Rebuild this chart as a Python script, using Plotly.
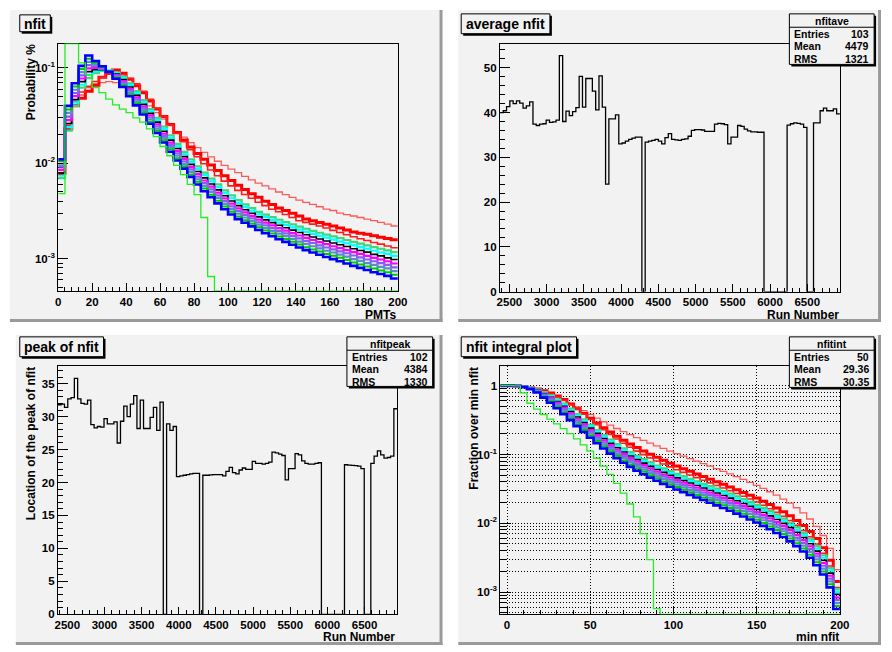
import numpy as np
import plotly.graph_objects as go

W, H = 892, 652

# ---------------------------------------------------------------- data
# nfit distributions, 50 bins of 4 PMTs from 0 to 200 (probability per bin)
nfit_edges = np.arange(0, 204, 4)

nfit_green = [0.0048, 0.2400, 0.2600, 0.1130, 0.0850, 0.0620, 0.0550, 0.0470, 0.0410, 0.0370,
              0.0340, 0.0300, 0.0270, 0.0230, 0.0190, 0.0150, 0.0120, 0.0095, 0.0076, 0.0060,
              0.0047, 0.0027, 0.00065, 0, 0, 0, 0, 0, 0, 0,
              0, 0, 0, 0, 0, 0, 0, 0, 0, 0,
              0, 0, 0, 0, 0, 0, 0, 0, 0, 0]

nfit_red_light = [0.0075, 0.0230, 0.0400, 0.0520, 0.0620, 0.0680, 0.0700, 0.0720, 0.0700, 0.0660,
                  0.0600, 0.0530, 0.0460, 0.0400, 0.0340, 0.0290, 0.0250, 0.0215, 0.0188, 0.0165,
                  0.0146, 0.0130, 0.0117, 0.0105, 0.0095, 0.0087, 0.0080, 0.0073, 0.0067, 0.0062,
                  0.0058, 0.0054, 0.0050, 0.0047, 0.0044, 0.0041, 0.0039, 0.0037, 0.0035, 0.0033,
                  0.0032, 0.0030, 0.0029, 0.0028, 0.0027, 0.0026, 0.0025, 0.0024, 0.0023, 0.0022]

nfit_red_thick = [0.0078, 0.0230, 0.0400, 0.0480, 0.0570, 0.0660, 0.0800, 0.0900, 0.0950, 0.0880,
                  0.0760, 0.0650, 0.0550, 0.0450, 0.0370, 0.0310, 0.0255, 0.0210, 0.0175, 0.0148,
                  0.0127, 0.0110, 0.0096, 0.0084, 0.0074, 0.0066, 0.0059, 0.0053, 0.0048, 0.0044,
                  0.0040, 0.0037, 0.0034, 0.0032, 0.0030, 0.0028, 0.0026, 0.0025, 0.0024, 0.0023,
                  0.0022, 0.0021, 0.0020, 0.0019, 0.00185, 0.0018, 0.00174, 0.00168, 0.00163, 0.00158]

nfit_red_mid = [0.0085, 0.0250, 0.0450, 0.0560, 0.0640, 0.0720, 0.0800, 0.0860, 0.0880, 0.0850,
                0.0780, 0.0680, 0.0570, 0.0470, 0.0380, 0.0310, 0.0250, 0.0205, 0.0168, 0.0139,
                0.0117, 0.0099, 0.0085, 0.0074, 0.0065, 0.0058, 0.0052, 0.0047, 0.0043, 0.0039,
                0.0036, 0.0033, 0.0031, 0.0029, 0.0027, 0.0025, 0.0024, 0.0023, 0.0022, 0.0021,
                0.00198, 0.00188, 0.00178, 0.00170, 0.00162, 0.00155, 0.00148, 0.00142, 0.00136, 0.00130]

# main family of runs, from the hardest spectrum (highest tail) to the softest
nfit_band_1 = [0.0070, 0.0220, 0.0400, 0.0620, 0.0780, 0.0880, 0.0930, 0.0940, 0.0900, 0.0810,
               0.0690, 0.0570, 0.0460, 0.0370, 0.0300, 0.0242, 0.0196, 0.0160, 0.0132, 0.0110,
               0.0093, 0.0080, 0.0069, 0.0060, 0.0052, 0.0046, 0.0041, 0.0037, 0.0034, 0.0031,
               0.00290, 0.00272, 0.00256, 0.00242, 0.00229, 0.00217, 0.00206, 0.00196, 0.00187, 0.00179,
               0.00171, 0.00164, 0.00157, 0.00150, 0.00144, 0.00138, 0.00132, 0.00127, 0.00122, 0.00117]
nfit_band_2 = [0.0074, 0.0240, 0.0432, 0.0666, 0.0845, 0.0918, 0.0944, 0.0936, 0.0880, 0.0781,
               0.0660, 0.0543, 0.0438, 0.0352, 0.0285, 0.0229, 0.0185, 0.0151, 0.01246, 0.01036,
               0.00874, 0.00751, 0.00647, 0.00562, 0.00487, 0.00430, 0.00384, 0.00347, 0.00319, 0.00291,
               0.00272, 0.00255, 0.00239, 0.00226, 0.00213, 0.00202, 0.00191, 0.00182, 0.00173, 0.00166,
               0.00158, 0.00151, 0.00145, 0.00138, 0.00132, 0.00127, 0.00121, 0.00116, 0.00112, 0.00107]
nfit_band_3 = [0.0079, 0.0261, 0.0467, 0.0719, 0.0914, 0.0957, 0.0959, 0.0931, 0.0861, 0.0754,
               0.0631, 0.0517, 0.0416, 0.0334, 0.0270, 0.0217, 0.0175, 0.0143, 0.01176, 0.00975,
               0.00821, 0.00704, 0.00607, 0.00526, 0.00456, 0.00403, 0.00360, 0.00326, 0.00299, 0.00274,
               0.00255, 0.00239, 0.00224, 0.00211, 0.00199, 0.00188, 0.00178, 0.00169, 0.00161, 0.00153,
               0.00146, 0.00140, 0.00134, 0.00127, 0.00122, 0.00117, 0.00111, 0.00107, 0.00102, 0.00098]
nfit_band_4 = [0.0086, 0.0284, 0.0505, 0.0775, 0.0988, 0.0998, 0.0975, 0.0927, 0.0842, 0.0727,
               0.0604, 0.0492, 0.0396, 0.0318, 0.0256, 0.0205, 0.0165, 0.0135, 0.01110, 0.00918,
               0.00771, 0.00660, 0.00569, 0.00493, 0.00428, 0.00377, 0.00337, 0.00306, 0.00281, 0.00257,
               0.00239, 0.00223, 0.00209, 0.00197, 0.00185, 0.00175, 0.00165, 0.00157, 0.00149, 0.00142,
               0.00135, 0.00129, 0.00123, 0.00117, 0.00112, 0.00107, 0.00102, 0.00098, 0.00094, 0.00089]
nfit_band_5 = [0.0092, 0.0309, 0.0546, 0.0836, 0.1068, 0.1041, 0.0991, 0.0923, 0.0823, 0.0702,
               0.0577, 0.0469, 0.0377, 0.0302, 0.0243, 0.0194, 0.0156, 0.0127, 0.01047, 0.00864,
               0.00724, 0.00619, 0.00534, 0.00462, 0.00401, 0.00353, 0.00316, 0.00288, 0.00264, 0.00241,
               0.00224, 0.00209, 0.00196, 0.00184, 0.00173, 0.00163, 0.00154, 0.00146, 0.00138, 0.00131,
               0.00125, 0.00119, 0.00114, 0.00108, 0.00103, 0.00098, 0.00094, 0.00090, 0.00086, 0.00081]
nfit_band_6 = [0.0095, 0.0337, 0.0590, 0.0902, 0.1155, 0.1085, 0.1007, 0.0918, 0.0805, 0.0677,
               0.0552, 0.0447, 0.0359, 0.0288, 0.0231, 0.0184, 0.0148, 0.0120, 0.00988, 0.00813,
               0.00680, 0.00580, 0.00500, 0.00433, 0.00376, 0.00331, 0.00296, 0.00270, 0.00248, 0.00227,
               0.00210, 0.00196, 0.00183, 0.00172, 0.00161, 0.00151, 0.00143, 0.00135, 0.00128, 0.00121,
               0.00116, 0.00110, 0.00105, 0.00099, 0.00095, 0.00090, 0.00086, 0.00082, 0.00079, 0.00074]
nfit_band_7 = [0.0105, 0.0367, 0.0638, 0.0973, 0.1249, 0.1132, 0.1023, 0.0914, 0.0787, 0.0653,
               0.0528, 0.0425, 0.0342, 0.0273, 0.0219, 0.0174, 0.0140, 0.0113, 0.00932, 0.00765,
               0.00639, 0.00544, 0.00469, 0.00406, 0.00352, 0.00310, 0.00277, 0.00253, 0.00232, 0.00213,
               0.00197, 0.00184, 0.00171, 0.00161, 0.00150, 0.00141, 0.00132, 0.00125, 0.00119, 0.00112,
               0.00107, 0.00102, 0.00097, 0.00091, 0.00087, 0.00083, 0.00079, 0.00075, 0.00072, 0.00068]
nfit_band_8 = [0.0110, 0.0400, 0.0690, 0.1050, 0.1350, 0.1180, 0.1040, 0.0910, 0.0770, 0.0630,
               0.0505, 0.0405, 0.0325, 0.0260, 0.0208, 0.0165, 0.0132, 0.0107, 0.0088, 0.0072,
               0.0060, 0.0051, 0.0044, 0.0038, 0.0033, 0.0029, 0.0026, 0.00238, 0.00218, 0.00200,
               0.00185, 0.00172, 0.00160, 0.00150, 0.00140, 0.00131, 0.00123, 0.00116, 0.00110, 0.00104,
               0.00099, 0.00094, 0.00089, 0.00084, 0.00080, 0.00076, 0.00072, 0.00069, 0.00066, 0.00062]

# run-by-run summaries, 103 bins between run 2373 and run 6939
run_lo, run_hi = 2373.0, 6939.0
avg_nfit = [40.0, 40.4, 41.3, 42.6, 42.0, 42.6, 42.1, 41.0, 41.5, 42.4,
            37.4, 37.1, 37.4, 37.5, 38.3, 37.8, 37.9, 38.3, 52.7, 38.0,
            40.3, 39.3, 40.2, 41.1, 48.1, 41.2, 47.6, 47.6, 44.8, 40.6,
            48.2, 41.2, 24.0, 38.6, 38.6, 39.5, 33.0, 33.2, 33.6, 34.0,
            34.3, 34.5, 34.5, 0.0, 33.4, 33.6, 33.8, 34.0, 33.6, 33.0,
            34.4, 35.3, 34.0, 33.9, 33.8, 34.0, 34.1, 34.7, 36.0, 36.2,
            36.2, 36.1, 35.8, 35.8, 35.8, 37.4, 37.6, 37.5, 37.3, 33.0,
            34.5, 34.5, 37.1, 36.9, 36.3, 35.9, 35.7, 35.7, 35.6, 35.6,
            0.0, 0.0, 0.0, 0.0, 0.0, 0.0, 0.0, 37.2, 37.5, 37.7,
            37.6, 37.4, 36.7, 0.0, 0.0, 37.7, 37.7, 40.4, 41.0, 40.4,
            40.4, 40.8, 39.7]
peak_nfit = [31.8, 31.9, 31.4, 32.7, 32.9, 35.8, 32.7, 32.0, 31.9, 32.5,
             28.8, 28.3, 28.5, 28.4, 29.7, 28.9, 28.9, 29.2, 26.0, 29.3,
             31.6, 30.0, 31.9, 33.2, 28.2, 32.5, 28.2, 28.2, 29.9, 31.4,
             27.9, 32.2, 0.0, 28.9, 27.9, 28.5, 20.9, 21.0, 21.1, 21.2,
             21.3, 21.4, 21.4, 0.0, 21.1, 21.1, 21.15, 21.2, 21.2, 21.2,
             21.0, 21.7, 22.3, 21.5, 21.3, 21.9, 22.2, 22.0, 22.0, 23.2,
             22.9, 22.9, 22.8, 22.9, 23.1, 24.6, 24.5, 24.3, 24.1, 20.4,
             22.1, 22.1, 24.4, 24.2, 23.3, 22.9, 22.8, 22.8, 22.9, 23.0,
             0.0, 0.0, 0.0, 0.0, 0.0, 0.0, 0.0, 22.7, 22.65, 22.6,
             22.55, 22.5, 22.1, 0.0, 0.0, 22.9, 24.0, 24.8, 24.2, 23.7,
             23.8, 24.0, 31.2]

stats_ave = [("Entries", "103"), ("Mean", "4479"), ("RMS", "1321")]
stats_peak = [("Entries", "102"), ("Mean", "4384"), ("RMS", "1330")]
stats_int = [("Entries", "50"), ("Mean", "29.36"), ("RMS", "30.35")]

# ---------------------------------------------------------------- style
PAD = "#f2f2f2"
FONT = "Liberation Sans"
nfit_series = [
    (nfit_red_light, "#ff5a5a", 1.3),
    (nfit_red_thick, "#ff0000", 3.0),
    (nfit_red_mid, "#ff1c1c", 1.6),
    (nfit_band_1, "#3fd67c", 2.2),
    (nfit_band_2, "#00ffff", 2.2),
    (nfit_band_3, "#000000", 1.6),
    (nfit_band_4, "#ff00ff", 2.2),
    (nfit_band_5, "#8a5cf0", 2.2),
    (nfit_band_6, "#5b8bd0", 2.2),
    (nfit_band_7, "#00c800", 2.0),
    (nfit_band_8, "#0000ff", 2.6),
    (nfit_green, "#22ee22", 1.3),
]


def fx(px):
    return px / W


def fy(py):
    return 1 - py / H


def steps(edges, vals):
    return list(edges), list(vals) + [vals[-1]]


fig = go.Figure()

# frames of the four pads (pixel boxes)
frames = {
    1: (56.0, 44.0, 400.7, 293.5),
    2: (504.3, 44.0, 849.3, 294.3),
    3: (55.7, 369.3, 400.0, 620.0),
    4: (504.7, 369.3, 849.3, 620.0),
}

# --- pad 1 : nfit distributions (log y)
y1_lo, y1_hi = -3.337, -0.745
for vals, col, lw in nfit_series:
    v = np.clip(np.array(vals, float), 10 ** y1_lo, 10 ** y1_hi)
    x, y = steps(nfit_edges, v)
    fig.add_trace(go.Scatter(x=x, y=y, mode="lines", line=dict(color=col, width=lw, shape="hv"),
                             xaxis="x", yaxis="y", cliponaxis=False, showlegend=False))

# --- pad 4 : fraction of events above a minimum nfit
y4_lo, y4_hi = -3.324, 0.288
int_edges = np.concatenate([[-4], nfit_edges])
for vals, col, lw in nfit_series:
    v = np.array(vals, float)
    frac = np.cumsum(v[::-1])[::-1] / v.sum()
    frac = np.concatenate([[frac[0]], frac])
    frac = np.clip(frac, 10 ** y4_lo, 10 ** y4_hi)
    x, y = steps(int_edges, frac)
    fig.add_trace(go.Scatter(x=x, y=y, mode="lines", line=dict(color=col, width=lw, shape="hv"),
                             xaxis="x4", yaxis="y4", cliponaxis=False, showlegend=False))

# --- pads 2 and 3 : per-run average and peak
run_edges = np.linspace(run_lo, run_hi, len(avg_nfit) + 1)
x, y = steps(run_edges, avg_nfit)
fig.add_trace(go.Scatter(x=x, y=y, mode="lines", line=dict(color="black", width=1.3, shape="hv"),
                         xaxis="x2", yaxis="y2", showlegend=False))
x, y = steps(run_edges, peak_nfit)
fig.add_trace(go.Scatter(x=x, y=y, mode="lines", line=dict(color="black", width=1.3, shape="hv"),
                         xaxis="x3", yaxis="y3", showlegend=False))

tickfont = dict(family=FONT, size=11.5, color="black", weight="bold")


def axis_common(frame_key, which):
    x0, y0, x1, y1 = frames[frame_key]
    if which == "x":
        dom = [fx(x0), fx(x1)]
    else:
        dom = [fy(y1), fy(y0)]
    return dict(domain=dom, showline=True, mirror=True, linecolor="black", linewidth=1,
                ticks="inside", tickcolor="black", tickwidth=1, tickfont=tickfont,
                showgrid=False, zeroline=False, fixedrange=True, layer="below traces")


def log_minor(lo, hi):
    out = []
    for d in range(int(np.floor(lo)) - 1, int(np.ceil(hi)) + 1):
        for m in range(2, 10):
            v = m * 10.0 ** d
            if 10 ** lo <= v <= 10 ** hi:
                out.append(v)
    return out


def lin_minor(lo, hi, step, major):
    vals = np.arange(np.ceil(lo / step) * step, hi + 1e-9, step)
    return [float(v) for v in vals if abs((v / major) - round(v / major)) > 1e-6]


# pad 1 axes
ax = axis_common(1, "x")
ax.update(range=[0, 200], tickvals=list(range(0, 201, 20)), ticklen=7.5,
          minor=dict(tickvals=lin_minor(0, 200, 4, 20), ticks="inside", ticklen=3.8, tickcolor="black"))
fig.layout.xaxis = ax
ay = axis_common(1, "y")
ay.update(type="log", range=[y1_lo, y1_hi], tickvals=[1e-3, 1e-2, 1e-1],
          ticktext=["10<sup>-3</sup>", "10<sup>-2</sup>", "10<sup>-1</sup>"], ticklen=10.3,
          minor=dict(tickvals=log_minor(y1_lo, y1_hi), ticks="inside", ticklen=5.2, tickcolor="black"))
fig.layout.yaxis = ay

# pad 2 axes
ax = axis_common(2, "x")
ax.update(range=[run_lo, run_hi], tickvals=list(range(2500, 6501, 500)), ticklen=7.5,
          minor=dict(tickvals=lin_minor(run_lo, run_hi, 100, 500), ticks="inside", ticklen=3.8, tickcolor="black"))
ax["anchor"] = "y2"
fig.layout.xaxis2 = ax
ay = axis_common(2, "y")
ay.update(range=[0, 55.4], tickvals=list(range(0, 51, 10)), ticklen=10.3, anchor="x2",
          minor=dict(tickvals=lin_minor(0, 55.4, 2, 10), ticks="inside", ticklen=5.2, tickcolor="black"))
fig.layout.yaxis2 = ay

# pad 3 axes
ax = axis_common(3, "x")
ax.update(range=[run_lo, run_hi], tickvals=list(range(2500, 6501, 500)), ticklen=7.5, anchor="y3",
          minor=dict(tickvals=lin_minor(run_lo, run_hi, 100, 500), ticks="inside", ticklen=3.8, tickcolor="black"))
fig.layout.xaxis3 = ax
ay = axis_common(3, "y")
ay.update(range=[0, 37.7], tickvals=list(range(0, 36, 5)), ticklen=10.3, anchor="x3",
          minor=dict(tickvals=lin_minor(0, 37.7, 1, 5), ticks="inside", ticklen=5.2, tickcolor="black"))
fig.layout.yaxis3 = ay

# pad 4 axes, dotted grid
grid = dict(showgrid=True, gridcolor="black", gridwidth=1, griddash="1px,2px")
ax = axis_common(4, "x")
ax.update(range=[-4, 200], tickvals=list(range(0, 201, 50)), ticklen=7.5, anchor="y4", **grid,
          minor=dict(tickvals=lin_minor(0, 200, 10, 50), ticks="inside", ticklen=3.8, tickcolor="black"))
fig.layout.xaxis4 = ax
ay = axis_common(4, "y")
ay.update(type="log", range=[y4_lo, y4_hi], tickvals=[1e-3, 1e-2, 1e-1, 1],
          ticktext=["10<sup>-3</sup>", "10<sup>-2</sup>", "10<sup>-1</sup>", "1"], ticklen=10.3, anchor="x4", **grid,
          minor=dict(tickvals=log_minor(y4_lo, y4_hi), ticks="inside", ticklen=5.2, tickcolor="black",
                     showgrid=True, gridcolor="black", gridwidth=1, griddash="1px,2px"))
fig.layout.yaxis4 = ay

# ---------------------------------------------------------------- pads, boxes and text
shapes = []
annotations = []


def rect(x0, y0, x1, y1, fill, line=None, lw=0, layer="below"):
    shapes.append(dict(type="rect", xref="paper", yref="paper", x0=fx(x0), x1=fx(x1), y0=fy(y1), y1=fy(y0),
                       fillcolor=fill, line=dict(color=line or fill, width=lw), layer=layer))


def hline(x0, x1, y, color="black", lw=1, layer="above"):
    shapes.append(dict(type="line", xref="paper", yref="paper", x0=fx(x0), x1=fx(x1), y0=fy(y), y1=fy(y),
                       line=dict(color=color, width=lw), layer=layer))


def text(s, x, y, size=12, xanchor="center", yanchor="middle", angle=0):
    annotations.append(dict(text=s, x=fx(x), y=fy(y), xref="paper", yref="paper", showarrow=False,
                            xanchor=xanchor, yanchor=yanchor, textangle=angle, borderpad=0,
                            font=dict(family=FONT, size=size, color="black", weight="bold")))


pads = [(7, 10, 446, 325), (462, 10, 891, 325), (13, 338, 446, 651), (462, 338, 891, 651)]
for x0, y0, x1, y1 in pads:
    rect(x0, y0, x1, y1, PAD)
    rect(x0, y1 - 3, x1, y1, "#9a9a9a")
    rect(x1 - 3, y0, x1, y1, "#9a9a9a")


def title_box(s, x0, y0, x1, y1):
    rect(x0 + 2, y0 + 2, x1 + 2, y1 + 2, "black", layer="above")
    rect(x0, y0, x1, y1, PAD, "black", 1, layer="above")
    text(s, (x0 + x1) / 2, (y0 + y1) / 2 + 0.5, size=14)


title_box("nfit", 17, 15, 48, 32)
title_box("average nfit", 465, 14, 555, 34)
title_box("peak of nfit", 17, 340, 102, 360)
title_box("nfit integral plot", 465, 340, 582, 360)


def stats_box(name, rows, x0, y0, x1, y1):
    rect(x0 + 2, y0 + 2, x1 + 2, y1 + 2, "black", layer="above")
    rect(x0, y0, x1, y1, PAD, "black", 1, layer="above")
    text(name, (x0 + x1) / 2, y0 + 7.5, size=10.5)
    hline(x0, x1, y0 + 13.5)
    for i, (k, v) in enumerate(rows):
        yy = y0 + 20.5 + 12.3 * i
        text(k, x0 + 4, yy, size=10.5, xanchor="left")
        text(v, x1 - 4, yy, size=10.5, xanchor="right")


stats_box("nfitave", stats_ave, 798, 14, 884, 65)
stats_box("nfitpeak", stats_peak, 349, 340, 436, 390)
stats_box("nfitint", stats_int, 798, 340, 884, 391)

# axis titles
text("PMTs", 400, 317.5, xanchor="right")
text("Probability %", 28, 44, xanchor="center", yanchor="top", angle=-90)
text("Run Number", 849, 317.5, xanchor="right")
text("Run Number", 399, 643, xanchor="right")
text("Location of the peak of nfit", 28, 369.5, xanchor="center", yanchor="top", angle=-90)
text("min nfit", 849, 643, xanchor="right")
text("Fraction over min nfit", 478, 369.5, xanchor="center", yanchor="top", angle=-90)

fig.update_layout(width=W, height=H, margin=dict(l=0, r=0, t=0, b=0),
                  paper_bgcolor="white", plot_bgcolor=PAD,
                  shapes=shapes, annotations=annotations, showlegend=False)

fig.write_html("out.html")
